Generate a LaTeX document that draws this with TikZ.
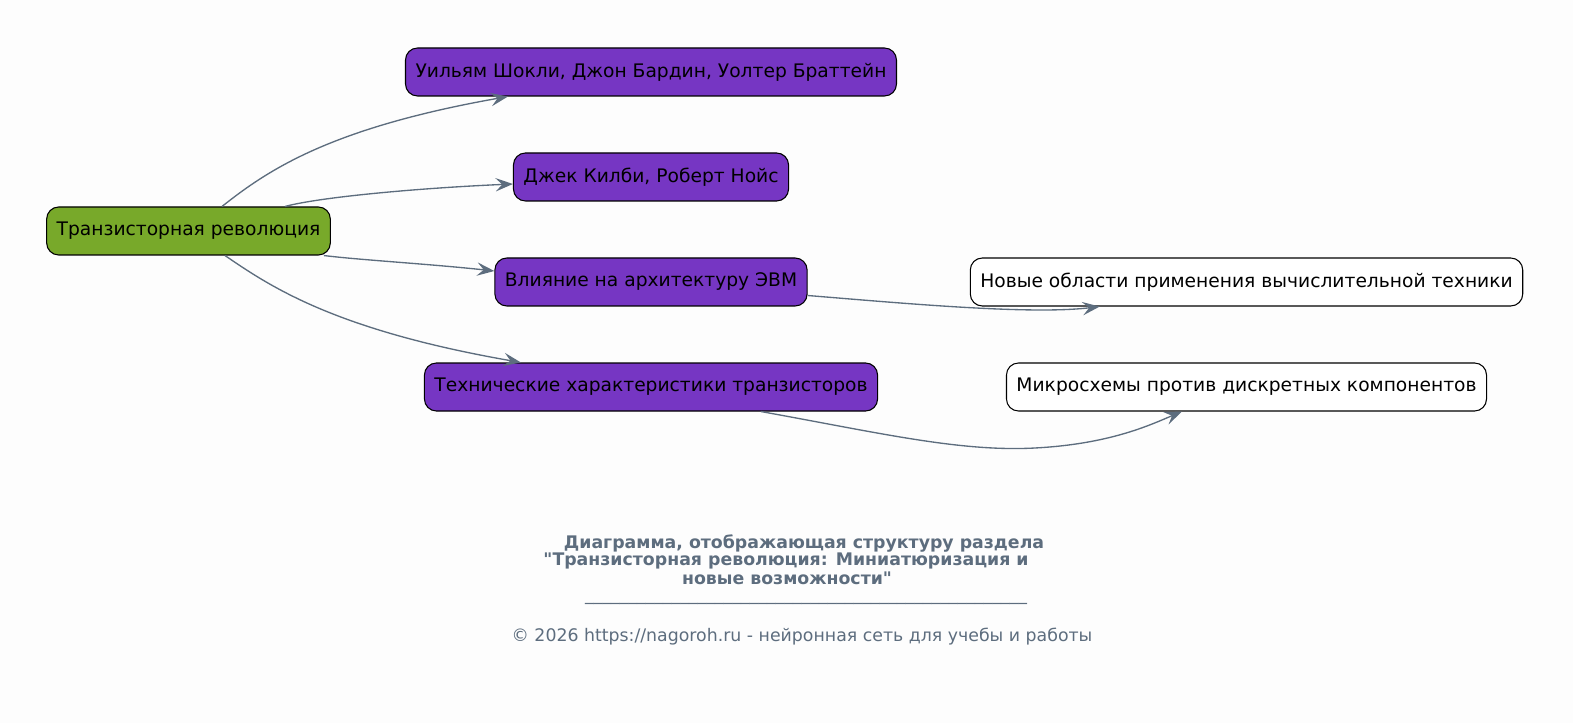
\documentclass[tikz,border=0pt]{standalone}
\usepackage{fontspec}
\setmainfont{DejaVu Sans}[Ligatures=TeXOff]
\usetikzlibrary{arrows.meta,calc}
\definecolor{bgcol}{HTML}{FDFDFD}
\definecolor{rootgreen}{HTML}{78A92A}
\definecolor{subpurple}{HTML}{7636C3}
\definecolor{slate}{HTML}{5D6D7E}
\tikzset{
  box/.style={draw=black, line width=0.8pt, rounded corners=9pt, minimum height=36pt,
    inner xsep=7.5pt, font=\fontsize{14}{17}\selectfont},
  rootbox/.style={box, fill=rootgreen},
  subbox/.style={box, fill=subpurple},
  leafbox/.style={box, fill=white},
  link/.style={draw=slate, line width=1pt, -{Stealth[length=13pt,width=10pt,inset=5pt]}},
  captxt/.style={text=slate, inner sep=0pt, font=\fontsize{13}{15}\selectfont\bfseries},
  foottxt/.style={text=slate, inner sep=0pt, font=\fontsize{13}{15}\selectfont},
}
\begin{document}
\begin{tikzpicture}[x=0.75pt,y=-0.75pt]
\fill[bgcol] (0,0) rectangle (1573,723);
\useasboundingbox (0,0) rectangle (1573,723);

\node[rootbox] (root) at (188.5,231) {Транзисторная революция};

\node[subbox] (shockley) at (651,72) {Уильям Шокли, Джон Бардин, Уолтер Браттейн};
\node[subbox] (kilby) at (651,177) {Джек Килби, Роберт Нойс};
\node[subbox] (arch) at (651,282) {Влияние на архитектуру ЭВМ};
\node[subbox] (specs) at (651,387) {Технические характеристики транзисторов};

\node[leafbox] (areas) at (1246.5,282) {Новые области применения вычислительной техники};
\node[leafbox] (chips) at (1246.5,387) {Микросхемы против дискретных компонентов};

% root to the four topics
\draw[link] ($(root.north)+(33.5,0)$) .. controls (268,170) and (330,128) .. ($(shockley.south west)+(103,0)$);
\draw[link] ($(root.north)+(96.5,0)$) .. controls (320,197) and (420,188) .. ($(kilby.west)+(0,7)$);
\draw[link] ($(root.south east)+(-7,0)$) .. controls (360,260) and (430,264) .. ($(arch.west)+(0,-11)$);
\draw[link] ($(root.south)+(36.5,0)$) .. controls (271,287) and (335,330) .. ($(specs.north west)+(97,0)$);

% topics to their leaves
\draw[link] ($(arch.east)+(0,13.5)$) .. controls (900,303) and (1030,315) .. ($(areas.south west)+(130,0)$);
\draw[link] ($(specs.south west)+(337,0)$) .. controls (880,433) and (960,452) .. (1035,448)
  .. controls (1110,444) and (1150,425) .. ($(chips.south west)+(176,0)$);

\node[captxt] (cap1) at (804,543) {Диаграмма, отображающая структуру раздела};
\node[captxt] (cap2) at (786,561) {"Транзисторная революция: Миниатюризация и};
\node[captxt] (cap3) at (787,578) {новые возможности"};
\node[foottxt] (bar) at (806,603) {\foreach \k in {1,...,51}{\_}};
\node[foottxt] (copy) at (802,637) {© 2026 https://nagoroh.ru - нейронная сеть для учебы и работы};
\end{tikzpicture}
\end{document}
